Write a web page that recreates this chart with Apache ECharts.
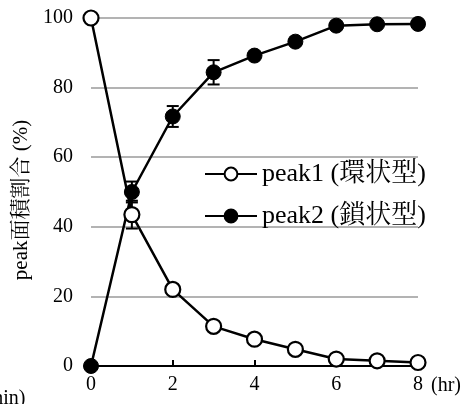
<!DOCTYPE html>
<html>
<head>
<meta charset="utf-8">
<script src="https://cdn.jsdelivr.net/npm/echarts@6/dist/echarts.min.js"></script>
<style>html,body{margin:0;padding:0;background:#fff}#c{width:467px;height:404px}</style>
</head>
<body>
<div id="c"></div>
<script>
const hours = [0, 1, 2, 3, 4, 5, 6, 7, 8];
const peak1 = [100, 43.5, 22, 11.4, 7.7, 4.8, 2.0, 1.5, 1.0];
const peak2 = [0, 50, 71.7, 84.4, 89.2, 93.2, 97.8, 98.2, 98.3];
const err1 = [0, 4, 0.8, 0.8, 0.5, 0.5, 0.3, 0.3, 0.3];
const err2 = [0, 3, 3, 3.5, 0.5, 0.5, 0.4, 0.4, 0.4];
const names = ['peak1 (環状型)', 'peak2 (鎖状型)'];
const yTicks = [0, 20, 40, 60, 80, 100];
const xTicks = [0, 2, 4, 6, 8];

const FONT = "'Liberation Serif', 'Noto Serif CJK JP', 'Noto Sans CJK JP', serif";
const chart = echarts.init(document.getElementById('c'), null, {renderer: 'canvas'});

function errBar(params, api) {
  const x = api.value(0), y = api.value(1), e = api.value(2);
  const t = api.coord([x, y + e]), b = api.coord([x, y - e]);
  const w = 6;
  const st = {stroke: '#000', lineWidth: 2};
  return {type: 'group', children: [
    {type: 'line', shape: {x1: t[0], y1: t[1], x2: b[0], y2: b[1]}, style: st},
    {type: 'line', shape: {x1: t[0] - w, y1: t[1], x2: t[0] + w, y2: t[1]}, style: st},
    {type: 'line', shape: {x1: b[0] - w, y1: b[1], x2: b[0] + w, y2: b[1]}, style: st}
  ]};
}

chart.setOption({
  backgroundColor: '#fff',
  animation: false,
  grid: {left: 91, right: 49, top: 18, bottom: 38, containLabel: false, outerBoundsMode: 'none'},
  legend: {
    orient: 'vertical', left: 204, top: 161, itemGap: 16, padding: 0,
    itemWidth: 52, itemHeight: 16,
    data: names,
    textStyle: {fontFamily: FONT, fontSize: 26, lineHeight: 26, color: '#000'}
  },
  xAxis: {
    type: 'value', min: 0, max: 8, interval: 2,
    axisLine: {show: true, lineStyle: {color: '#000', width: 2}},
    axisTick: {show: true, inside: true, length: 6, lineStyle: {color: '#000', width: 2}},
    axisLabel: {fontFamily: FONT, fontSize: 20, color: '#000', margin: 9,
      formatter: v => xTicks.includes(v) ? String(v) : ''},
    splitLine: {show: false}
  },
  yAxis: {
    type: 'value', min: 0, max: 100, interval: 20,
    name: 'peak面積割合 (%)', nameLocation: 'middle', nameGap: 59, nameRotate: 90,
    nameTextStyle: {fontFamily: FONT, fontSize: 21, color: '#000', padding: [0, 16, 0, 0]},
    axisLine: {show: false}, axisTick: {show: false},
    axisLabel: {fontFamily: FONT, fontSize: 20, color: '#000', margin: 18,
      formatter: v => yTicks.includes(v) ? String(v) : ''},
    splitLine: {show: true, lineStyle: {color: '#b3b3b3', width: 2}}
  },
  graphic: [
    {type: 'text', x: 431, y: 386, style: {text: '(hr)', font: '20px ' + FONT, fill: '#000', verticalAlign: 'middle'}},
    {type: 'text', x: -19, y: 399, style: {text: '(min)', font: '20px ' + FONT, fill: '#000', verticalAlign: 'middle'}}
  ],
  series: [
    {type: 'custom', name: 'e2', renderItem: errBar, z: 1, silent: true,
      data: hours.map((h, i) => [h, peak2[i], err2[i]])},
    {type: 'custom', name: 'e1', renderItem: errBar, z: 1, silent: true,
      data: hours.map((h, i) => [h, peak1[i], err1[i]])},
    {type: 'line', name: names[1], z: 3,
      data: hours.map((h, i) => [h, peak2[i]]),
      symbol: 'circle', symbolSize: 15, showAllSymbol: true,
      lineStyle: {color: '#000', width: 2.5},
      itemStyle: {color: '#000', borderColor: '#000', borderWidth: 1}},
    {type: 'line', name: names[0], z: 4,
      data: hours.map((h, i) => [h, peak1[i]]),
      symbol: 'circle', symbolSize: 15, showAllSymbol: true,
      lineStyle: {color: '#000', width: 2.5},
      itemStyle: {color: '#fff', borderColor: '#000', borderWidth: 2.2}}
  ]
});
</script>
</body>
</html>
